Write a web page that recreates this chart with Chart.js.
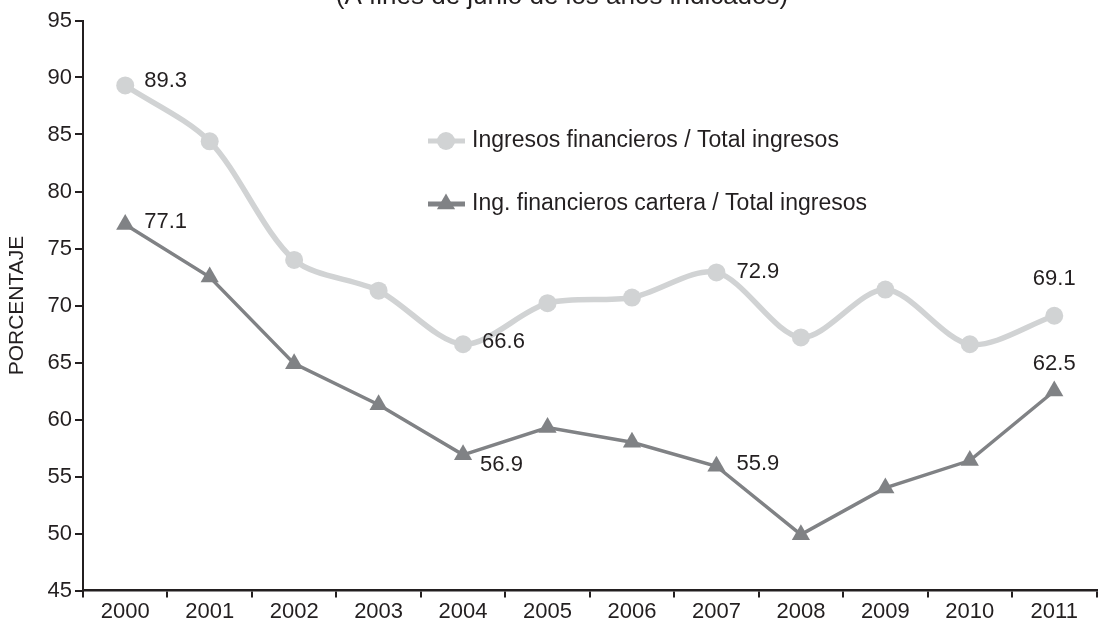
<!DOCTYPE html>
<html>
<head>
<meta charset="utf-8">
<script src="https://cdn.jsdelivr.net/npm/chart.js@4.4.1/dist/chart.umd.min.js"></script>
<style>
  html, body { margin: 0; padding: 0; background: #ffffff; overflow: hidden; }
  #wrap { width: 1107px; height: 626px; overflow: hidden; }
</style>
</head>
<body>
<div id="wrap"><canvas id="c" width="1107" height="626"></canvas></div>
<script>
const years = ['2000','2001','2002','2003','2004','2005','2006','2007','2008','2009','2010','2011'];
const ingresosFinancieros = [89.3, 84.4, 74.0, 71.3, 66.6, 70.2, 70.7, 72.9, 67.2, 71.4, 66.6, 69.1];
const ingFinCartera = [77.1, 72.5, 64.9, 61.3, 56.9, 59.3, 58.0, 55.9, 49.9, 54.0, 56.4, 62.5];
const seriesNames = ['Ingresos financieros / Total ingresos', 'Ing. financieros cartera / Total ingresos'];
const yTicks = [45, 50, 55, 60, 65, 70, 75, 80, 85, 90, 95];
const titleText = '(A fines de junio de los años indicados)';
const yAxisTitle = 'PORCENTAJE';
// labelled points: [datasetIndex, pointIndex]
const labelledPoints = [[0,0],[1,0],[0,4],[1,4],[0,7],[1,7],[0,11],[1,11]];

const TXT = '#231f20';
const LIGHT = '#d1d3d4';
const DARK = '#808285';
const FONT = '"Liberation Sans", Arial, sans-serif';

const labelOffsets = {
  '0-0': [19, -5, 'left'], '1-0': [19, -3, 'left'],
  '0-4': [19, -2, 'left'], '1-4': [17, 10, 'left'],
  '0-7': [20, -1, 'left'], '1-7': [20, -2, 'left'],
  '0-11': [0, -37, 'center'], '1-11': [0, -27, 'center']
};

const extras = {
  id: 'extras',
  afterDatasetsDraw(chart) {
    const ctx = chart.ctx;
    ctx.save();
    // title (cut at top)
    ctx.fillStyle = TXT;
    ctx.font = '26px ' + FONT;
    ctx.textAlign = 'center';
    ctx.textBaseline = 'alphabetic';
    ctx.fillText(titleText, 562, 4);
    // data labels
    ctx.font = '22px ' + FONT;
    ctx.textBaseline = 'middle';
    labelledPoints.forEach(([d, i]) => {
      const el = chart.getDatasetMeta(d).data[i];
      const ds = chart.data.datasets[d];
      const o = labelOffsets[d + '-' + i];
      ctx.textAlign = o[2];
      ctx.fillText(ds.data[i].toFixed(1), el.x + o[0], el.y + o[1]);
    });
    // legend
    const legendY = [141, 204];
    chart.data.datasets.forEach((ds, k) => {
      const y = legendY[k];
      ctx.strokeStyle = ds.borderColor;
      ctx.lineWidth = 5;
      ctx.beginPath();
      ctx.moveTo(428, y);
      ctx.lineTo(465, y);
      ctx.stroke();
      ctx.fillStyle = ds.pointBackgroundColor;
      ctx.beginPath();
      if (ds.pointStyle === 'circle') {
        ctx.arc(446, y, ds.pointRadius, 0, Math.PI * 2);
      } else {
        const r = ds.pointRadius;
        ctx.moveTo(446, y - r);
        ctx.lineTo(446 + r * Math.sin(2 * Math.PI / 3), y - r * Math.cos(2 * Math.PI / 3));
        ctx.lineTo(446 + r * Math.sin(4 * Math.PI / 3), y - r * Math.cos(4 * Math.PI / 3));
        ctx.closePath();
      }
      ctx.fill();
      ctx.fillStyle = TXT;
      ctx.textAlign = 'left';
      ctx.textBaseline = 'middle';
      ctx.font = '23px ' + FONT;
      ctx.fillText(seriesNames[k], 472, y);
    });
    ctx.restore();
  }
};

new Chart(document.getElementById('c'), {
  type: 'line',
  data: {
    labels: years,
    datasets: [
      {
        label: seriesNames[0],
        data: ingresosFinancieros,
        borderColor: LIGHT,
        backgroundColor: LIGHT,
        pointBackgroundColor: LIGHT,
        pointBorderColor: LIGHT,
        borderWidth: 5.5,
        pointStyle: 'circle',
        pointRadius: 9,
        pointBorderWidth: 0,
        tension: 0.3,
        fill: false
      },
      {
        label: seriesNames[1],
        data: ingFinCartera,
        borderColor: DARK,
        backgroundColor: DARK,
        pointBackgroundColor: DARK,
        pointBorderColor: DARK,
        borderWidth: 3.5,
        pointStyle: 'triangle',
        pointRadius: 10.5,
        pointBorderWidth: 0,
        tension: 0,
        fill: false
      }
    ]
  },
  options: {
    responsive: false,
    animation: false,
    devicePixelRatio: 1,
    layout: { padding: { top: 20.5, right: 0, left: 0, bottom: 0 } },
    plugins: { legend: { display: false }, tooltip: { enabled: false }, title: { display: false } },
    scales: {
      x: {
        type: 'category',
        offset: true,
        grid: { offset: true, drawOnChartArea: false, drawTicks: true, tickLength: 7, color: TXT, lineWidth: 2 },
        border: { display: true, color: TXT, width: 2.5 },
        ticks: { color: TXT, font: { family: FONT, size: 22 }, padding: 1, maxRotation: 0, autoSkip: false },
        afterFit(scale) { scale.height = 35.5; }
      },
      y: {
        min: 45, max: 95,
        afterBuildTicks(scale) { scale.ticks = yTicks.map(v => ({ value: v })); },
        grid: { drawOnChartArea: false, drawTicks: true, tickLength: 8, color: TXT, lineWidth: 2 },
        border: { display: true, color: TXT, width: 2 },
        ticks: { color: TXT, font: { family: FONT, size: 22 }, padding: 3 },
        title: { display: true, text: yAxisTitle, color: TXT, font: { family: FONT, size: 21 }, padding: { top: 5, bottom: 0 } },
        afterFit(scale) { scale.width = 83; }
      }
    }
  },
  plugins: [extras]
});
</script>
</body>
</html>
